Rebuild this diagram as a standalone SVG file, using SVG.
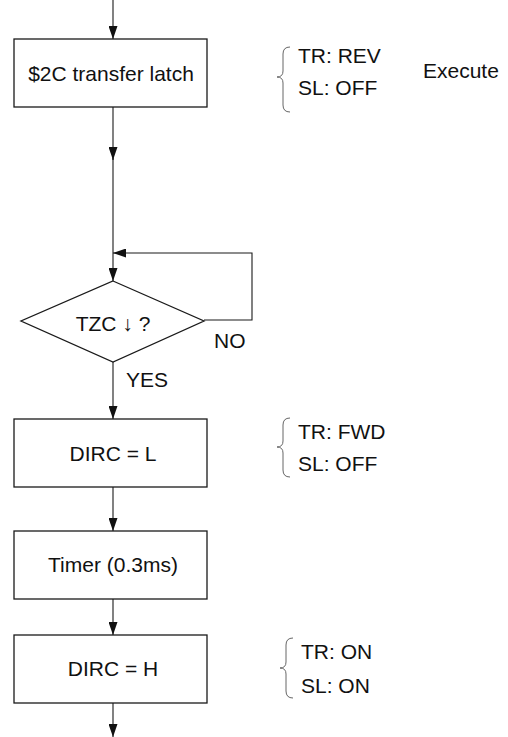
<svg xmlns="http://www.w3.org/2000/svg" width="508" height="737" viewBox="0 0 508 737">
<style>
  .box { fill: #fff; stroke: #1a1a1a; stroke-width: 1.3; }
  .ln { fill: none; stroke: #1a1a1a; stroke-width: 1.1; }
  .brace { fill: none; stroke: #666; stroke-width: 1; }
  text { font-family: "Liberation Sans", Arial, sans-serif; font-size: 21px; fill: #111; }
  .c { text-anchor: middle; }
</style>
<defs>
  <marker id="ah" viewBox="0 0 13 9" refX="13" refY="4.5" markerWidth="13" markerHeight="9" markerUnits="userSpaceOnUse" orient="auto">
    <path d="M0,0 L13,4.5 L0,9 Z" fill="#111"/>
  </marker>
</defs>
<rect width="508" height="737" fill="#fff"/>
<g id="connectors">
  <line class="ln" x1="113" y1="0" x2="113" y2="39" marker-end="url(#ah)"/>
  <line class="ln" x1="113" y1="107" x2="113" y2="160" marker-end="url(#ah)"/>
  <line class="ln" x1="113" y1="158" x2="113" y2="281" marker-end="url(#ah)"/>
  <polyline class="ln" points="204,320 252,320 252,253 113,253" marker-end="url(#ah)"/>
  <line class="ln" x1="113" y1="362" x2="113" y2="419" marker-end="url(#ah)"/>
  <line class="ln" x1="113" y1="487" x2="113" y2="531" marker-end="url(#ah)"/>
  <line class="ln" x1="113" y1="599" x2="113" y2="635" marker-end="url(#ah)"/>
  <line class="ln" x1="113" y1="703" x2="113" y2="737" marker-end="url(#ah)"/>
</g>
<g id="n1">
  <rect class="box" x="14" y="39" width="193" height="68"/>
  <text class="c" x="111" y="81">$2C transfer latch</text>
</g>
<g id="ann1">
  <path class="brace" d="M290,47 Q283,47 283,54 L283,71 Q283,77 277,77 Q283,77 283,83 L283,105 Q283,112 290,112"/>
  <text x="298" y="63">TR: REV</text>
  <text x="298" y="95">SL: OFF</text>
  <text x="423" y="78">Execute</text>
</g>
<g id="n2">
  <polygon class="box" points="113,281 204,321 113,362 21,321"/>
  <text class="c" x="113" y="331">TZC ↓ ?</text>
  <text x="214" y="348">NO</text>
  <text x="126" y="387">YES</text>
</g>
<g id="n3">
  <rect class="box" x="14" y="419" width="193" height="68"/>
  <text class="c" x="113" y="461">DIRC = L</text>
</g>
<g id="ann2">
  <path class="brace" d="M290,418 Q283,418 283,425 L283,441 Q283,447 277,447 Q283,447 283,453 L283,470 Q283,477 290,477"/>
  <text x="298" y="439">TR: FWD</text>
  <text x="298" y="471">SL: OFF</text>
</g>
<g id="n4">
  <rect class="box" x="14" y="531" width="193" height="68"/>
  <text class="c" x="113" y="572">Timer (0.3ms)</text>
</g>
<g id="n5">
  <rect class="box" x="14" y="635" width="193" height="68"/>
  <text class="c" x="113" y="676">DIRC = H</text>
</g>
<g id="ann3">
  <path class="brace" d="M293,638 Q286,638 286,645 L286,662 Q286,668 280,668 Q286,668 286,674 L286,691 Q286,698 293,698"/>
  <text x="301" y="659">TR: ON</text>
  <text x="301" y="693">SL: ON</text>
</g>
</svg>
